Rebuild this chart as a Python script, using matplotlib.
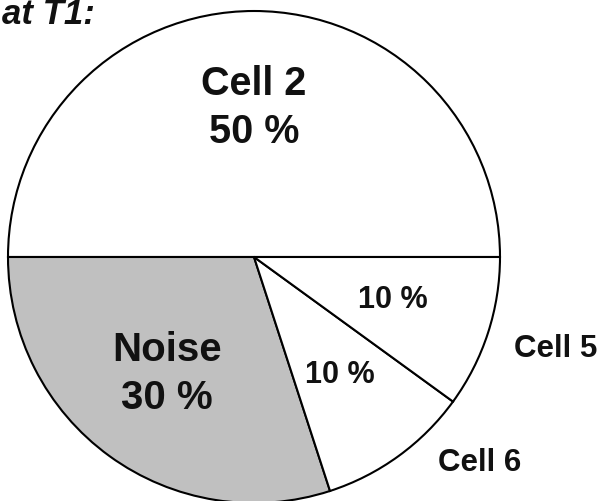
import matplotlib
matplotlib.use("Agg")
import matplotlib.pyplot as plt

labels = ["Cell 2", "Noise", "Cell 6", "Cell 5"]
values = [50, 30, 10, 10]
colors = ["white", "#c0c0c0", "white", "white"]
title = "at T1:"

plt.rcParams['font.family'] = ['Liberation Sans', 'DejaVu Sans']

W, H = 600, 501
fig = plt.figure(figsize=(6, 5.01), dpi=100)
cx, cy, r = 254, 257, 246
ax = fig.add_axes([(cx - r) / W, (H - cy - r) / H, 2 * r / W, 2 * r / H])
ax.pie(values, colors=colors, startangle=0, counterclock=True, radius=1,
       wedgeprops=dict(edgecolor="black", linewidth=1.5))
ax.set_xlim(-1, 1)
ax.set_ylim(-1, 1)
ax.set_aspect("equal")
ax.axis("off")

def px(x, y):
    return ((x - cx) / r, (cy - y) / r)

def put(x, y, s, size):
    dx, dy = px(x, y)
    ax.text(dx, dy, s, ha="center", va="center", fontsize=size,
            fontweight="bold", color="#111111", clip_on=False)

pct = [f"{v} %" for v in values]
put(254, 84, labels[0], 28.5)
put(254, 132, pct[0], 28.5)
put(167, 350, labels[1], 29)
put(167, 398, pct[1], 29)
put(393, 300, pct[3], 22)
put(340, 375, pct[2], 22)
put(556, 349, labels[3], 22.5)
put(480, 463, labels[2], 22.5)

fig.text(2 / W, 1 - 15 / H, title, ha="left", va="center", fontsize=25,
         fontweight="bold", fontstyle="italic", color="#111111")

fig.savefig("out.png", dpi=100)
